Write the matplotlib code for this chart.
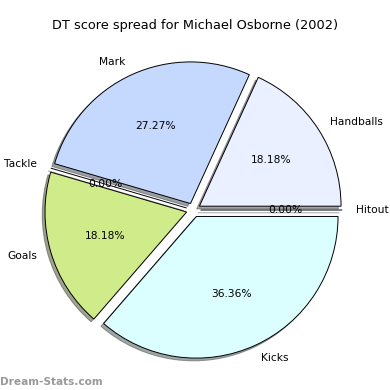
import matplotlib
matplotlib.use("Agg")
import matplotlib.pyplot as plt

labels = ["Handballs", "Mark", "Tackle", "Goals", "Kicks", "Hitout"]
counts = [2, 3, 0, 2, 4, 0]
colors = ["#eaf0ff", "#c5d9ff", "#c5d9ff", "#d0eb8a", "#dbffff", "#eaf0ff"]
explode = [0.05] * len(labels)

fig = plt.figure(figsize=(3.9, 3.9), dpi=100)
ax = fig.add_axes([0.042, 0.0075, 0.908, 0.908])
wedges, texts, autotexts = ax.pie(counts, labels=labels, colors=colors, explode=explode,
                                  autopct="%.2f%%", startangle=0,
                                  shadow={"ox": -0.014, "oy": -0.014},
                                  wedgeprops={"edgecolor": "black", "linewidth": 0.7},
                                  textprops={"fontsize": 7.7})
ax.set_aspect("equal")
fig.text(0.5, 0.935, "DT score spread for Michael Osborne (2002)", ha="center", va="center", fontsize=9.3)
fig.text(0.0, 0.013, "Dream-Stats.com", color="#999999", fontsize=7.6, fontweight="bold")

fig.savefig("out.png", dpi=100)
